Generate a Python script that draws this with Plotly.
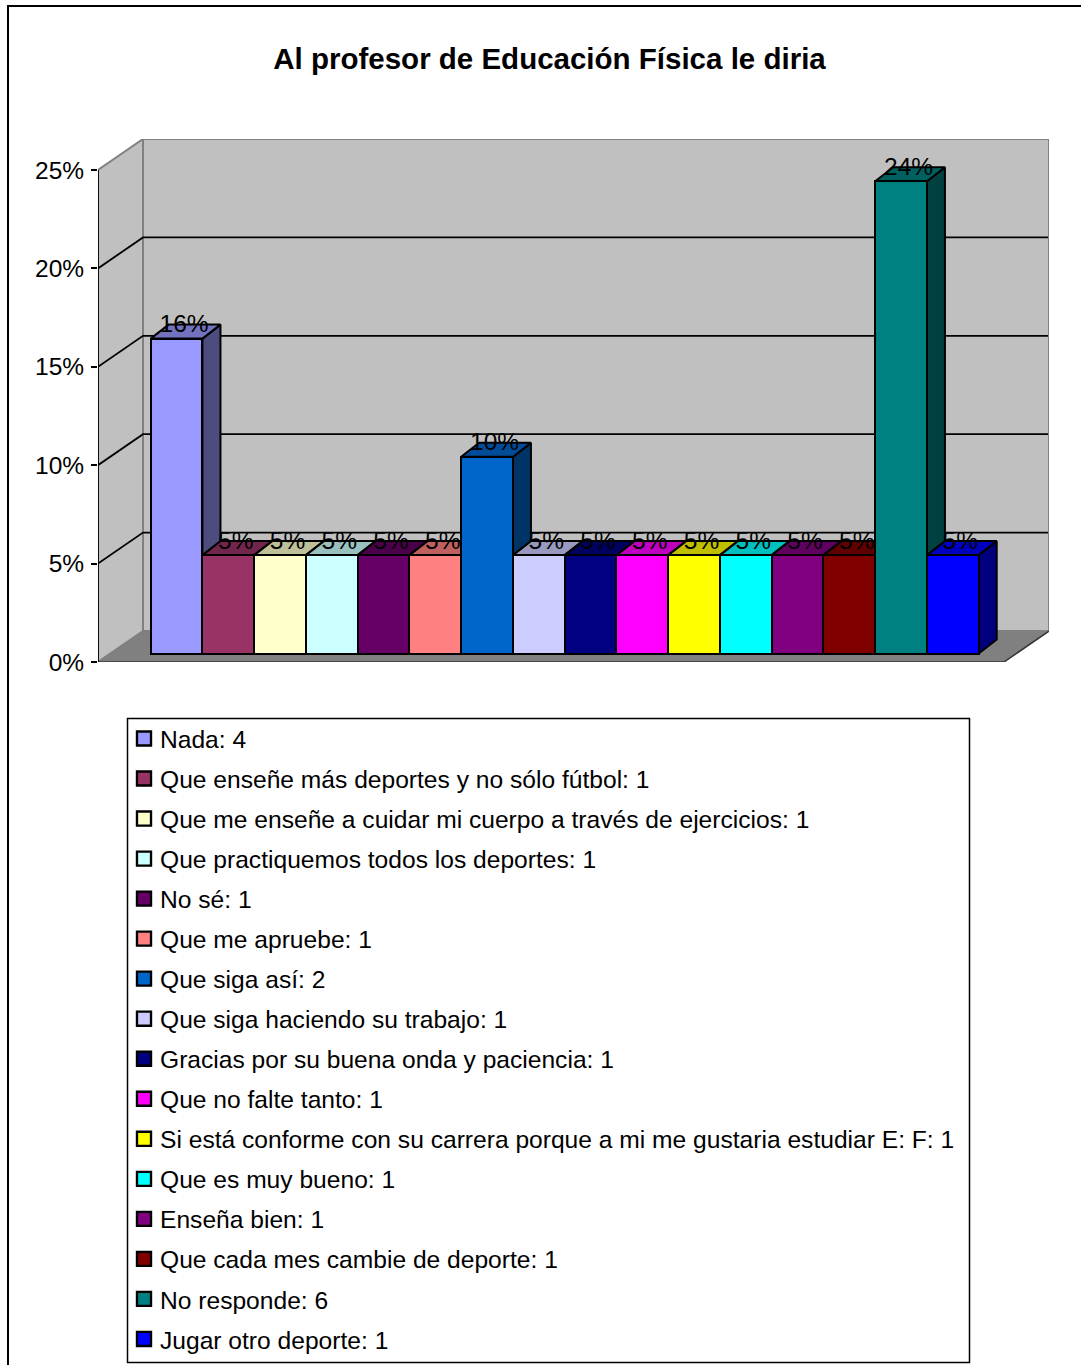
import plotly.graph_objects as go

title = "Al profesor de Educación Física le diria"
categories = [
    "Nada: 4",
    "Que enseñe más deportes y no sólo fútbol: 1",
    "Que me enseñe a cuidar mi cuerpo a través de ejercicios: 1",
    "Que practiquemos todos los deportes: 1",
    "No sé: 1",
    "Que me apruebe: 1",
    "Que siga así: 2",
    "Que siga haciendo su trabajo: 1",
    "Gracias por su buena onda y paciencia: 1",
    "Que no falte tanto: 1",
    "Si está conforme con su carrera porque a mi me gustaria estudiar E: F: 1",
    "Que es muy bueno: 1",
    "Enseña bien: 1",
    "Que cada mes cambie de deporte: 1",
    "No responde: 6",
    "Jugar otro deporte: 1",
]
values = [16, 5, 5, 5, 5, 5, 10, 5, 5, 5, 5, 5, 5, 5, 24, 5]
labels = ["16%", "5%", "5%", "5%", "5%", "5%", "10%", "5%", "5%", "5%", "5%", "5%", "5%", "5%", "24%", "5%"]
colors = ["#9999FF", "#993366", "#FFFFCC", "#CCFFFF", "#660066", "#FF8080", "#0066CC", "#CCCCFF",
          "#000080", "#FF00FF", "#FFFF00", "#00FFFF", "#800080", "#800000", "#008080", "#0000FF"]
tick_values = [0, 5, 10, 15, 20, 25]

W, H = 1081, 1365
# plot area in pixels
L, R, T, B = 98, 1049, 139, 662
BAR_L, BAR_UNIT = 150.7, 51.75    # px of first bar, px per category
Y_UNIT = (662 - 170) / 25         # px per percent
BAR_BASE = 653.5                  # px of bars' zero line

x_range = [(L - BAR_L) / BAR_UNIT, (R - BAR_L) / BAR_UNIT]
y_range = [0, (B - T) / Y_UNIT]
y_bar_range = [-(B - BAR_BASE) / Y_UNIT, (BAR_BASE - T) / Y_UNIT]

# depth of the walls and of the bars, in axis units
wall_dx, wall_dy = 45 / BAR_UNIT, 31 / Y_UNIT
bar_dx, bar_dy = 18 / BAR_UNIT, 14 / Y_UNIT
label_dx, label_dy = 7.5 / BAR_UNIT, 12.5 / Y_UNIT
xf0 = x_range[0]
xb0 = xf0 + wall_dx
xb1 = x_range[1]
xf1 = xb1 - wall_dx
top = tick_values[-1]


def shade(hex_color, f):
    r, g, b = (int(hex_color[i:i + 2], 16) for i in (1, 3, 5))
    return f"rgb({int(r * f)},{int(g * f)},{int(b * f)})"


def px(x):
    return (x - L) / (R - L)


def py(y):
    return (B - y) / (B - T)


fig = go.Figure()


def poly(xs, ys, fill, line, lw, yaxis):
    fig.add_trace(go.Scatter(x=xs, y=ys, mode="lines", fill="toself", fillcolor=fill,
                             line=dict(color=line, width=lw), yaxis=yaxis, xaxis="x",
                             showlegend=False, hoverinfo="skip"))


# walls and floor, on the tick scale
poly([xf0, xf0, xb0, xb0, xf0], [0, top, top + wall_dy, wall_dy, 0], "#C0C0C0", "#808080", 2, "y")
poly([xb0, xb0, xb1, xb1, xb0], [wall_dy, top + wall_dy, top + wall_dy, wall_dy, wall_dy], "#C0C0C0", "#808080", 2, "y")
poly([xf0, xb0, xb1, xf1, xf0], [0, wall_dy, wall_dy, 0, 0], "#808080", "#808080", 1, "y")
fig.add_trace(go.Scatter(x=[xf0, xf1, xb1], y=[0, 0, wall_dy], mode="lines", line=dict(color="#333", width=1.5),
                         showlegend=False, hoverinfo="skip", yaxis="y"))
# gridlines on side wall and back wall, and the axis line
gx, gy = [xf0, xf0, None], [0, top, None]
for t in tick_values[1:-1]:
    gx += [xf0, xb0, xb1 - 0.02, None]
    gy += [t, t + wall_dy, t + wall_dy, None]
fig.add_trace(go.Scatter(x=gx, y=gy, mode="lines", line=dict(color="#000", width=1.8),
                         showlegend=False, hoverinfo="skip", yaxis="y"))

# side and top faces of the bars
for i, v in enumerate(values):
    x0, x1 = i, i + 1
    poly([x1, x1 + bar_dx, x1 + bar_dx, x1, x1], [0, bar_dy, v + bar_dy, v, 0],
         shade(colors[i], 0.5), "#000", 2, "y2")
    poly([x0, x1, x1 + bar_dx, x0 + bar_dx, x0], [v, v, v + bar_dy, v + bar_dy, v],
         shade(colors[i], 0.75), "#000", 2, "y2")

# front faces
for i, v in enumerate(values):
    fig.add_trace(go.Bar(x=[i + 0.5], y=[v], width=1, name=categories[i],
                         marker=dict(color=colors[i], line=dict(color="#000", width=2)),
                         legendgroup=f"g{i}", yaxis="y3", xaxis="x", hoverinfo="name"))

# value labels
fig.add_trace(go.Scatter(x=[i + 0.5 + label_dx for i in range(len(values))],
                         y=[v + label_dy for v in values], mode="text", text=labels,
                         textposition="middle center",
                         textfont=dict(family="Liberation Sans", size=24.5, color="#000"),
                         yaxis="y3", xaxis="x", showlegend=False, hoverinfo="skip"))

hidden = dict(visible=False, overlaying="y", fixedrange=True)
fig.update_layout(
    width=W, height=H, autosize=False,
    margin=dict(l=L, r=W - R, t=T, b=H - B, autoexpand=False),
    paper_bgcolor="#FFFFFF", plot_bgcolor="rgba(0,0,0,0)",
    font=dict(family="Liberation Sans", size=24, color="#000"),
    title=dict(text=f"<b>{title}</b>", x=549.5 / W, xanchor="center", y=1 - 59 / H, yanchor="middle",
               font=dict(family="Liberation Sans", size=29.5, color="#000")),
    barmode="overlay", bargap=0,
    xaxis=dict(range=x_range, visible=False, fixedrange=True),
    yaxis=dict(range=y_range, tickvals=tick_values, ticktext=[f"{t}%" for t in tick_values],
               showgrid=False, zeroline=False, showline=False,
               ticks="outside", ticklen=6, tickwidth=2, tickcolor="#000", ticklabelstandoff=2,
               tickfont=dict(size=24.5), fixedrange=True),
    yaxis2=dict(range=y_bar_range, **hidden),
    yaxis3=dict(range=y_bar_range, **hidden),
    showlegend=True,
    legend=dict(x=px(120), y=py(716), xanchor="left", yanchor="top", tracegroupgap=5.05,
                traceorder="grouped", bgcolor="rgba(0,0,0,0)", borderwidth=0,
                font=dict(family="Liberation Sans", size=24.6, color="#000"), itemclick=False, itemdoubleclick=False),
    shapes=[
        # chart frame, running off the right and bottom of the picture
        dict(type="path", xref="paper", yref="paper", layer="below",
             path=f"M {px(8)} {py(1400)} L {px(8)} {py(6)} L {px(1100)} {py(6)}",
             line=dict(color="#000", width=2)),
        # legend box
        dict(type="rect", xref="paper", yref="paper", layer="below",
             x0=px(127.5), x1=px(969.5), y0=py(718.5), y1=py(1362.5),
             line=dict(color="#000", width=1.5), fillcolor="#FFFFFF"),
    ],
)

post = """
document.body.style.margin='0';document.body.style.overflow='hidden';
document.querySelectorAll('.legend .legendpoints path').forEach(function(p){
  p.setAttribute('transform','translate(24,0) scale(1.17)');
});
"""
fig.write_html("out.html", config={"displayModeBar": False}, post_script=post)
